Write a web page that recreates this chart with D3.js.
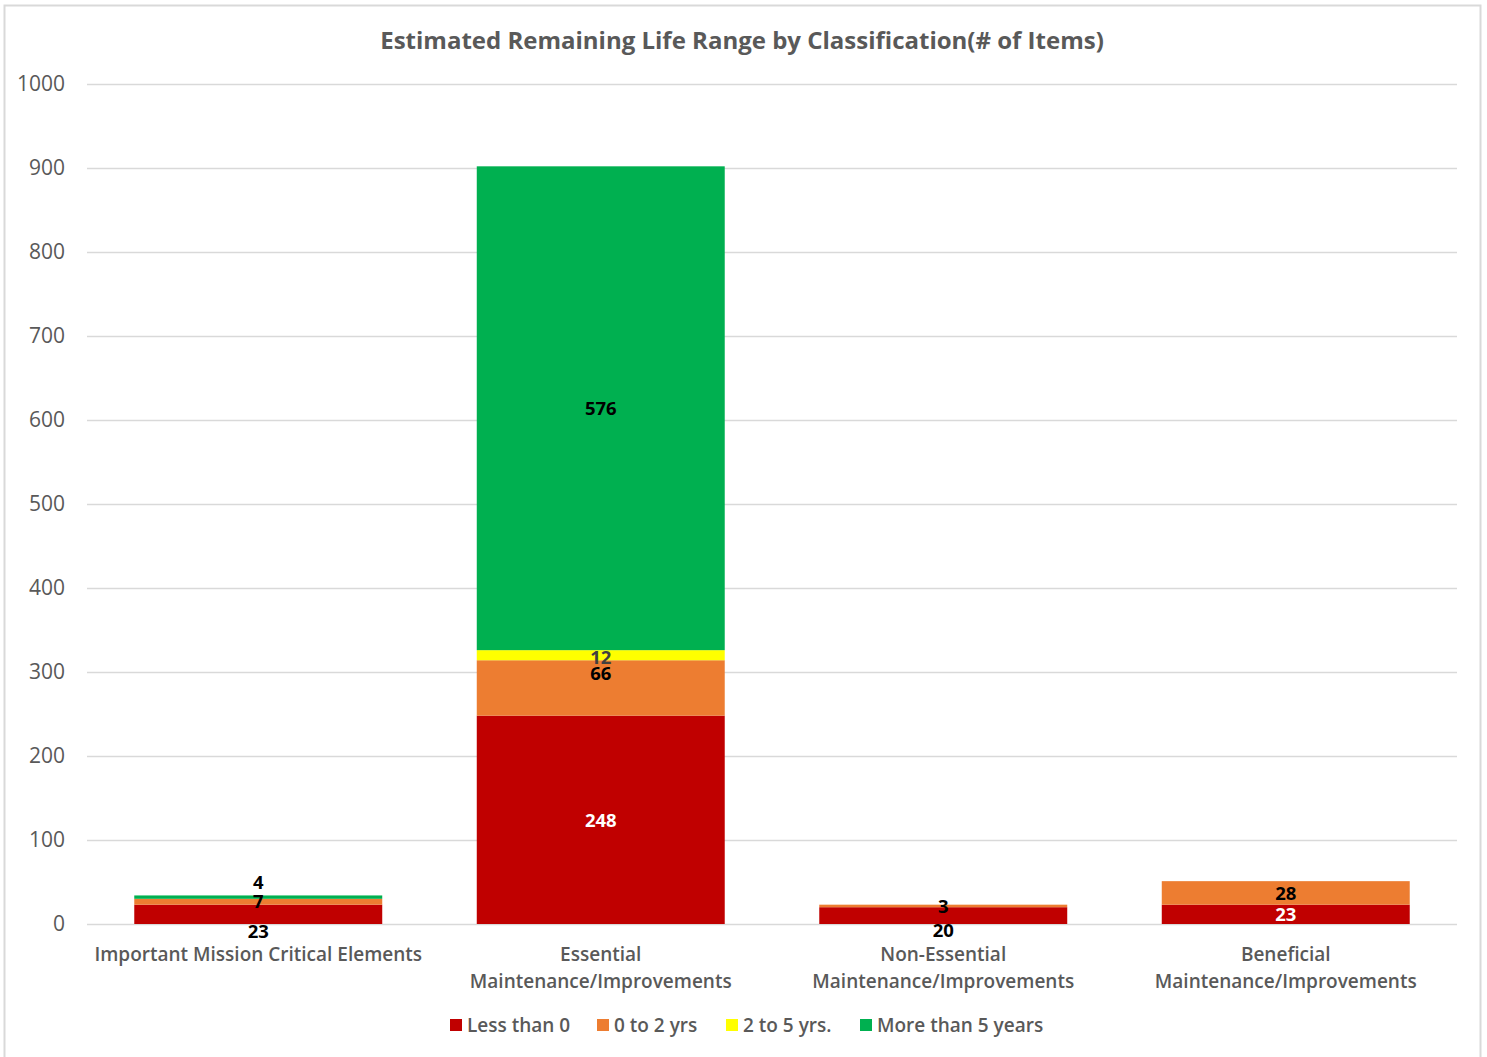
<!DOCTYPE html>
<html>
<head>
<meta charset="utf-8">
<script src="https://cdn.jsdelivr.net/npm/d3@7"></script>
<style>
  body { margin: 0; background: #fff; }
  text { font-family: "Open Sans", sans-serif; }
</style>
</head>
<body>
<div id="chart"></div>
<script>
// categories, series, values
var categories = [
    ["Important Mission Critical Elements"],
    ["Essential", "Maintenance/Improvements"],
    ["Non-Essential", "Maintenance/Improvements"],
    ["Beneficial", "Maintenance/Improvements"]
];
var series_names = ["Less than 0", "0 to 2 yrs", "2 to 5 yrs.", "More than 5 years"];
var series_colors = ["#c00000", "#ed7d31", "#ffff00", "#00b050"];
var less_than_0 = [23, 248, 20, 23];
var zero_to_2 = [7, 66, 3, 28];
var two_to_5 = [0, 12, 0, 0];
var more_than_5 = [4, 576, 0, 0];
var y_ticks = [0, 100, 200, 300, 400, 500, 600, 700, 800, 900, 1000];

var width = 1487, height = 1057;
var margin = {top: 84, left: 87, right: 30, bottom: 133};
var chartWidth = width - margin.left - margin.right;
var chartHeight = height - margin.top - margin.bottom;

var table = categories.map(function(c, i) {
    return {cat: i, s0: less_than_0[i], s1: zero_to_2[i], s2: two_to_5[i], s3: more_than_5[i]};
});
var keys = ["s0", "s1", "s2", "s3"];
var stacked = d3.stack().keys(keys)(table);

var svg = d3.select("#chart").append("svg")
    .attr("width", width)
    .attr("height", height);

// outer frame
svg.append("rect")
    .attr("x", 4.5).attr("y", 5.5)
    .attr("width", 1476).attr("height", 1060)
    .attr("fill", "none")
    .attr("stroke", "#d9d9d9")
    .attr("stroke-width", 2);

svg.append("text")
    .attr("x", 742)
    .attr("y", 49)
    .attr("text-anchor", "middle")
    .attr("font-size", 24)
    .attr("font-weight", 700)
    .attr("fill", "#595959")
    .text("Estimated Remaining Life Range by Classification(# of Items)");

var g = svg.append("g").attr("transform", `translate(${margin.left},${margin.top})`);

var x_scale = d3.scaleBand()
    .domain(d3.range(categories.length))
    .range([0, chartWidth])
    .paddingInner(0.276)
    .paddingOuter(0.138);

var y_scale = d3.scaleLinear()
    .domain([0, 1000])
    .range([chartHeight, 0]);

// gridlines
g.append("g")
    .selectAll("line")
    .data(y_ticks)
    .join("line")
    .attr("x1", 0).attr("x2", chartWidth)
    .attr("y1", d => y_scale(d) + 0.5).attr("y2", d => y_scale(d) + 0.5)
    .attr("stroke", "#d9d9d9")
    .attr("stroke-width", 1.5);

var left_axis = d3.axisLeft(y_scale).tickValues(y_ticks).tickFormat(d3.format("d")).tickSize(0).tickPadding(22);
var yAxis = g.append("g").call(left_axis);
yAxis.select(".domain").remove();
yAxis.selectAll("text")
    .attr("font-family", "Open Sans")
    .attr("font-size", 21)
    .attr("fill", "#595959");

// bars
var layers = g.selectAll(".layer")
    .data(stacked)
    .join("g")
    .attr("class", "layer")
    .attr("fill", (d, i) => series_colors[i]);

layers.selectAll("rect")
    .data(d => d)
    .join("rect")
    .attr("x", d => x_scale(d.data.cat))
    .attr("width", x_scale.bandwidth())
    .attr("y", d => y_scale(d[1]))
    .attr("height", d => y_scale(d[0]) - y_scale(d[1]));

// data labels, a few nudged off small segments like the original
var label_nudge = {"0-s0": 17, "0-s3": -15, "1-s1": -15, "2-s0": 15, "1-s2": 2};
var label_color = {"1-s0": "#fff", "3-s0": "#fff", "1-s2": "#404040"};

stacked.forEach(function(layer) {
    layer.forEach(function(d) {
        var v = d[1] - d[0];
        if (v <= 0) return;
        var id = d.data.cat + "-" + layer.key;
        g.append("text")
            .attr("x", x_scale(d.data.cat) + x_scale.bandwidth() / 2)
            .attr("y", y_scale((d[0] + d[1]) / 2) + (label_nudge[id] || 0))
            .attr("dy", "0.36em")
            .attr("text-anchor", "middle")
            .attr("font-size", 18.5)
            .attr("font-weight", 700)
            .attr("fill", label_color[id] || "#000")
            .text(v);
    });
});

// category labels
categories.forEach(function(lines, i) {
    var t = g.append("text")
        .attr("x", x_scale(i) + x_scale.bandwidth() / 2)
        .attr("y", chartHeight + 37)
        .attr("text-anchor", "middle")
        .attr("font-size", 19)
        .attr("font-weight", 600)
        .attr("fill", "#595959");
    lines.forEach(function(l, j) {
        t.append("tspan")
            .attr("x", x_scale(i) + x_scale.bandwidth() / 2)
            .attr("dy", j === 0 ? 0 : 27)
            .text(l);
    });
});

// legend
var legend_x = [450, 597, 726, 860];
var legend = svg.append("g").attr("transform", "translate(0,1025)");
series_names.forEach(function(name, i) {
    legend.append("rect")
        .attr("x", legend_x[i]).attr("y", -6)
        .attr("width", 12).attr("height", 12)
        .attr("fill", series_colors[i]);
    legend.append("text")
        .attr("x", legend_x[i] + 17)
        .attr("y", 0)
        .attr("dy", "0.36em")
        .attr("font-size", 19)
        .attr("font-weight", 600)
        .attr("fill", "#595959")
        .text(name);
});
</script>
</body>
</html>
